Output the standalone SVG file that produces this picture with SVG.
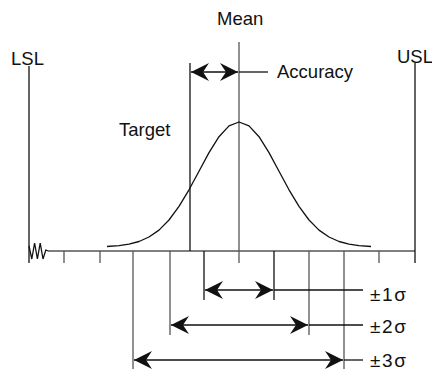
<svg xmlns="http://www.w3.org/2000/svg" width="432" height="372" viewBox="0 0 432 372">
<style>
text{font-family:"Liberation Sans",Arial,sans-serif;font-size:18.5px;fill:#111}
.sg{font-size:19px;letter-spacing:1.6px}
.ln{stroke:#111;stroke-width:1.3;fill:none}
.gr{stroke:#555;stroke-width:1.3;fill:none}
.arr{stroke:#111;stroke-width:1.3;fill:none;marker-start:url(#ah);marker-end:url(#ah)}
</style>
<defs>
<marker id="ah" viewBox="-20 -10 21 20" markerWidth="21" markerHeight="20" refX="0" refY="0" orient="auto-start-reverse" markerUnits="userSpaceOnUse">
<path d="M0,0 L-18,-9 L-12,0 L-18,9 Z" fill="#111"/>
</marker>
</defs>
<rect width="432" height="372" fill="#fff"/>
<g id="axis">
<polyline class="ln" stroke-width="1.1" points="29,246 31.8,259 34.6,243 37.4,259 40.2,243 43,259 45.8,250 48.3,251"/>
<line class="gr" x1="48" y1="251" x2="415" y2="251"/>
<line class="gr" x1="64" y1="251" x2="64" y2="263"/>
<line class="gr" x1="100" y1="251" x2="100" y2="263"/>
<line class="gr" x1="379" y1="251" x2="379" y2="263"/>
</g>
<g id="lsl">
<line class="ln" x1="29" y1="66" x2="29" y2="263"/>
<text x="11" y="65">LSL</text>
</g>
<g id="usl">
<line class="ln" x1="415" y1="63" x2="415" y2="263"/>
<text x="397" y="63">USL</text>
</g>
<g id="mean">
<line class="gr" x1="239" y1="42" x2="239" y2="263"/>
<text x="217" y="25">Mean</text>
</g>
<g id="target">
<line class="ln" x1="190" y1="63" x2="190" y2="251"/>
<text x="119" y="136">Target</text>
</g>
<g id="curve">
<polyline class="ln" stroke-linejoin="round" points="107,246.5 119,245.6 129,244.1 139,241.5 149,237 159,230.1 169,220 179,206.4 189,189.8 199,171.2 209,152.6 219,136.7 229,125.9 239,122 249,125.9 259,136.7 269,152.6 279,171.2 289,189.8 299,206.4 309,220 319,230.1 329,237 339,241.5 349,244.1 359,245.6 371,246.5"/>
</g>
<g id="accuracy">
<text x="277" y="78">Accuracy</text>
</g>
<g id="sigma1">
<line class="ln" x1="204" y1="251" x2="204" y2="300"/>
<line class="ln" x1="274" y1="251" x2="274" y2="300"/>
<text class="sg" x="370" y="301">±1σ</text>
</g>
<g id="sigma2">
<line class="gr" x1="170" y1="251" x2="170" y2="335"/>
<line class="gr" x1="309" y1="251" x2="309" y2="335"/>
<text class="sg" x="370" y="333">±2σ</text>
</g>
<g id="sigma3">
<line class="gr" x1="133" y1="251" x2="133" y2="369"/>
<line class="gr" x1="344" y1="251" x2="344" y2="369"/>
<text class="sg" x="370" y="367">±3σ</text>
</g>
<g id="connectors">
<line class="arr" x1="191" y1="72" x2="238" y2="72"/>
<line class="ln" x1="239" y1="72" x2="268" y2="72"/>
<line class="arr" x1="205" y1="290" x2="273" y2="290"/>
<line class="ln" x1="274" y1="290" x2="363" y2="290"/>
<line class="arr" x1="171" y1="325" x2="308" y2="325"/>
<line class="ln" x1="309" y1="325" x2="363" y2="325"/>
<line class="arr" x1="134" y1="360" x2="343" y2="360"/>
<line class="ln" x1="344" y1="360" x2="363" y2="360"/>
</g>
</svg>
